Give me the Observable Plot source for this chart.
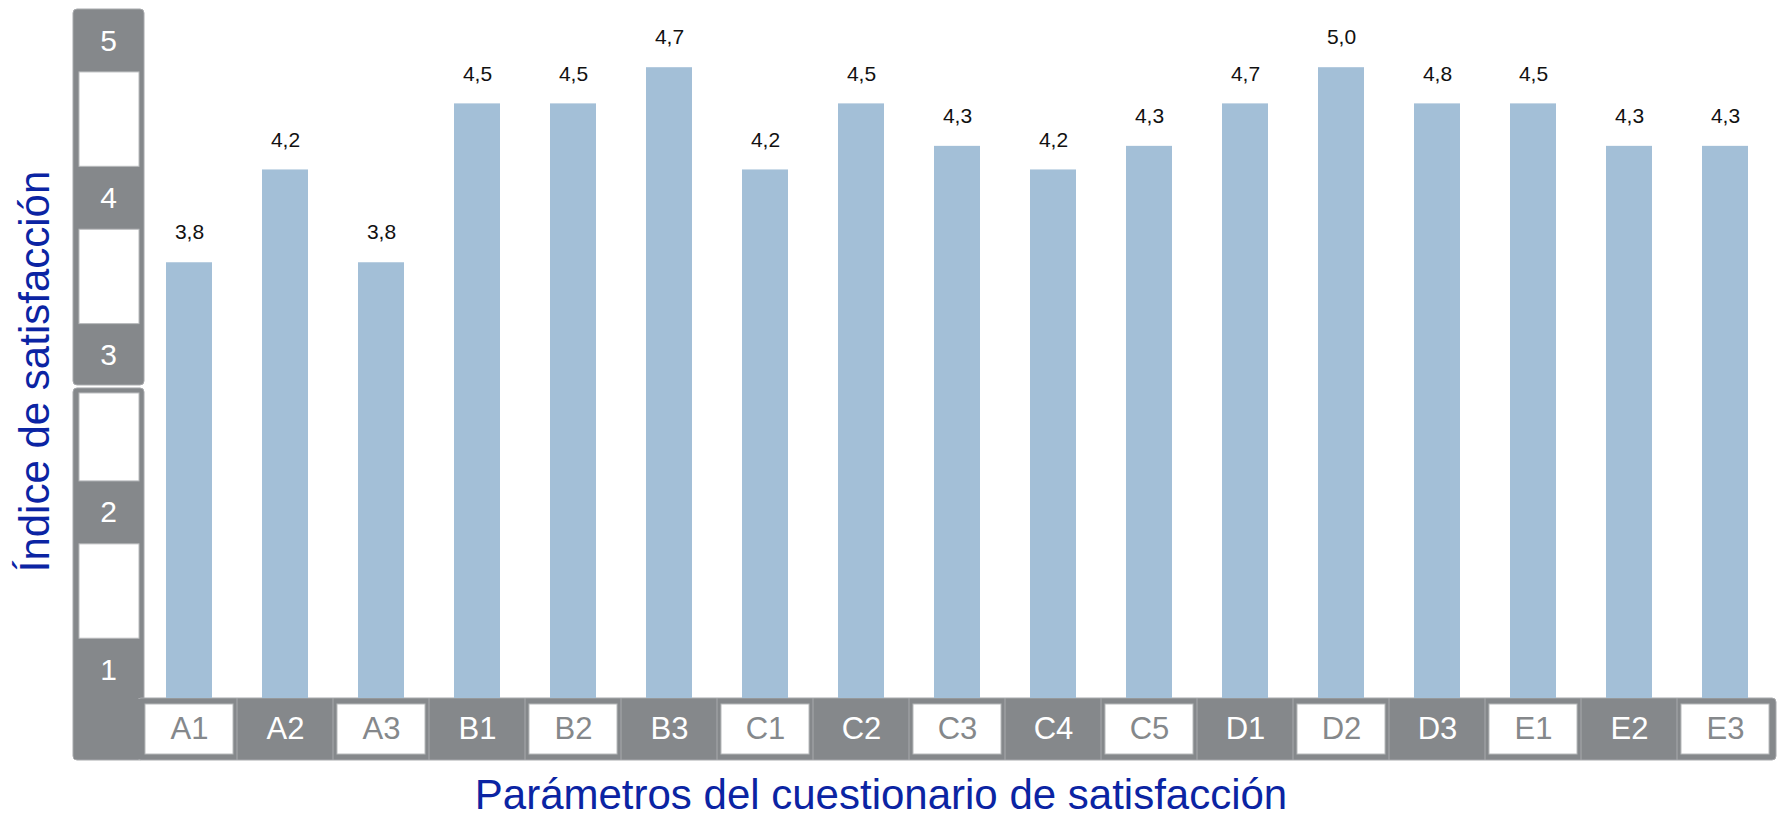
<!DOCTYPE html>
<html>
<head>
<meta charset="utf-8">
<script src="https://cdn.jsdelivr.net/npm/d3@7"></script>
<script src="https://cdn.jsdelivr.net/npm/@observablehq/plot@0.6"></script>
<style>
  html, body { margin: 0; padding: 0; background: #fff; }
  #chart svg { display: block; }
</style>
</head>
<body>
<div id="chart"></div>
<script>
// ---- data ----
const categories = ["A1","A2","A3","B1","B2","B3","C1","C2","C3","C4","C5","D1","D2","D3","E1","E2","E3"];
// value printed above each bar
const labels = [3.8, 4.2, 3.8, 4.5, 4.5, 4.7, 4.2, 4.5, 4.3, 4.2, 4.3, 4.7, 5.0, 4.8, 4.5, 4.3, 4.3];
// drawn bar height, in the units of the left axis
const barHeights = [3.59, 4.18, 3.59, 4.6, 4.6, 4.83, 4.18, 4.6, 4.33, 4.18, 4.33, 4.6, 4.83, 4.6, 4.6, 4.33, 4.33];
const yTicks = [1, 2, 3, 4, 5];
const yDomain = [0.82, 5.2];
const xTitle = "Parámetros del cuestionario de satisfacción";
const yTitle = "Índice de satisfacción";

const data = categories.map((c, i) => ({cat: c, h: barHeights[i], label: labels[i], i}));

const GREY = "#85888b";
const EDGE = "#a7a9ac";
const BAR = "#a3bfd7";
const BLUE = "#0b24a3";
const FONT = "'Liberation Sans', Arial, Helvetica, sans-serif";

// decorative axis frame (grey column + grey band with white cells), placed via the scales
function decor(index, scales, values, dims) {
  const {x, y} = scales;
  const g = d3.create("svg:g");
  const colL = 73, colR = 144;
  const plotBottom = dims.height - dims.marginBottom;
  const bandBottom = plotBottom + 62;
  const bandL = dims.marginLeft, bandR = dims.width - dims.marginRight;
  const breakTick = 3;
  const sepY = y(breakTick - 0.19);

  g.append("rect").attr("x", colL).attr("y", y(yDomain[1])).attr("width", colR - colL)
    .attr("height", sepY - y(yDomain[1])).attr("rx", 4).attr("fill", GREY).attr("stroke", EDGE).attr("stroke-width", 1);
  g.append("rect").attr("x", colL).attr("y", sepY + 3).attr("width", colR - colL)
    .attr("height", bandBottom - sepY - 3).attr("rx", 4).attr("fill", GREY).attr("stroke", EDGE).attr("stroke-width", 1);
  g.append("rect").attr("x", bandL).attr("y", plotBottom).attr("width", bandR - bandL)
    .attr("height", bandBottom - plotBottom).attr("rx", 4).attr("fill", GREY).attr("stroke", EDGE).attr("stroke-width", 1);
  g.append("rect").attr("x", colL + 1).attr("y", plotBottom + 1).attr("width", colR - colL + 2)
    .attr("height", bandBottom - plotBottom - 2).attr("fill", GREY);

  const sorted = [...yTicks].sort((a, b) => b - a);
  for (let k = 0; k < sorted.length - 1; k++) {
    const hi = sorted[k], lo = sorted[k + 1];
    let top = y(hi - 0.2);
    if (hi === breakTick) top = sepY + 8;
    const bot = y(lo + 0.2);
    g.append("rect").attr("x", colL + 6).attr("y", top).attr("width", colR - colL - 11)
      .attr("height", bot - top).attr("fill", "#fff").attr("stroke", "#b8babc").attr("stroke-width", 1);
  }

  const bw = x.bandwidth();
  categories.forEach((c, i) => {
    const x0 = x(c);
    if (i > 0) {
      g.append("line").attr("x1", x0).attr("x2", x0).attr("y1", plotBottom).attr("y2", bandBottom)
        .attr("stroke", EDGE).attr("stroke-width", 1);
    }
    if (i % 2 === 0) {
      g.append("rect").attr("x", x0 + 4).attr("y", plotBottom + 6).attr("width", bw - 8)
        .attr("height", bandBottom - plotBottom - 12).attr("fill", "#fff").attr("stroke", "#b8babc").attr("stroke-width", 1);
    }
  });
  return g.node();
}

// rotated y-axis title, positioned from the frame dimensions
function yTitleMark(index, scales, values, dims) {
  const cy = (dims.marginTop + dims.height - dims.marginBottom) / 2 + 18;
  const t = d3.create("svg:text")
    .attr("transform", `translate(49,${cy}) rotate(-90)`)
    .attr("text-anchor", "middle")
    .attr("font-size", 42)
    .attr("font-family", FONT)
    .attr("fill", BLUE)
    .text(yTitle);
  return t.node();
}

const fmt = v => v.toFixed(1).replace(".", ",");

const chart = Plot.plot({
  width: 1777,
  height: 816,
  marginLeft: 137,
  marginRight: 1,
  marginTop: 9,
  marginBottom: 118,
  style: {fontFamily: FONT, background: "#fff"},
  x: {type: "band", domain: categories, padding: 0, axis: null},
  y: {domain: yDomain, axis: null},
  marks: [
    decor,
    Plot.barY(data, {x: "cat", y1: yDomain[0], y2: "h", fill: BAR, insetLeft: 25, insetRight: 25}),
    Plot.text(data, {x: "cat", y: "h", text: d => fmt(d.label), dy: -30, lineAnchor: "middle",
      fontSize: 21, fill: "#111"}),
    Plot.text(data.filter(d => d.i % 2 === 0), {x: "cat", text: "cat", frameAnchor: "bottom", dy: 31,
      lineAnchor: "middle", fontSize: 31, fill: GREY}),
    Plot.text(data.filter(d => d.i % 2 === 1), {x: "cat", text: "cat", frameAnchor: "bottom", dy: 31,
      lineAnchor: "middle", fontSize: 31, fill: "#fff"}),
    Plot.text(yTicks, {y: d => d, text: d => String(d), frameAnchor: "left", dx: -29,
      textAnchor: "middle", lineAnchor: "middle", fontSize: 30, fill: "#fff"}),
    Plot.text([xTitle], {text: d => d, frameAnchor: "bottom", dx: -76, dy: 110, lineAnchor: "bottom",
      fontSize: 42, fill: BLUE}),
    yTitleMark
  ]
});

document.getElementById("chart").appendChild(chart);
</script>
</body>
</html>
